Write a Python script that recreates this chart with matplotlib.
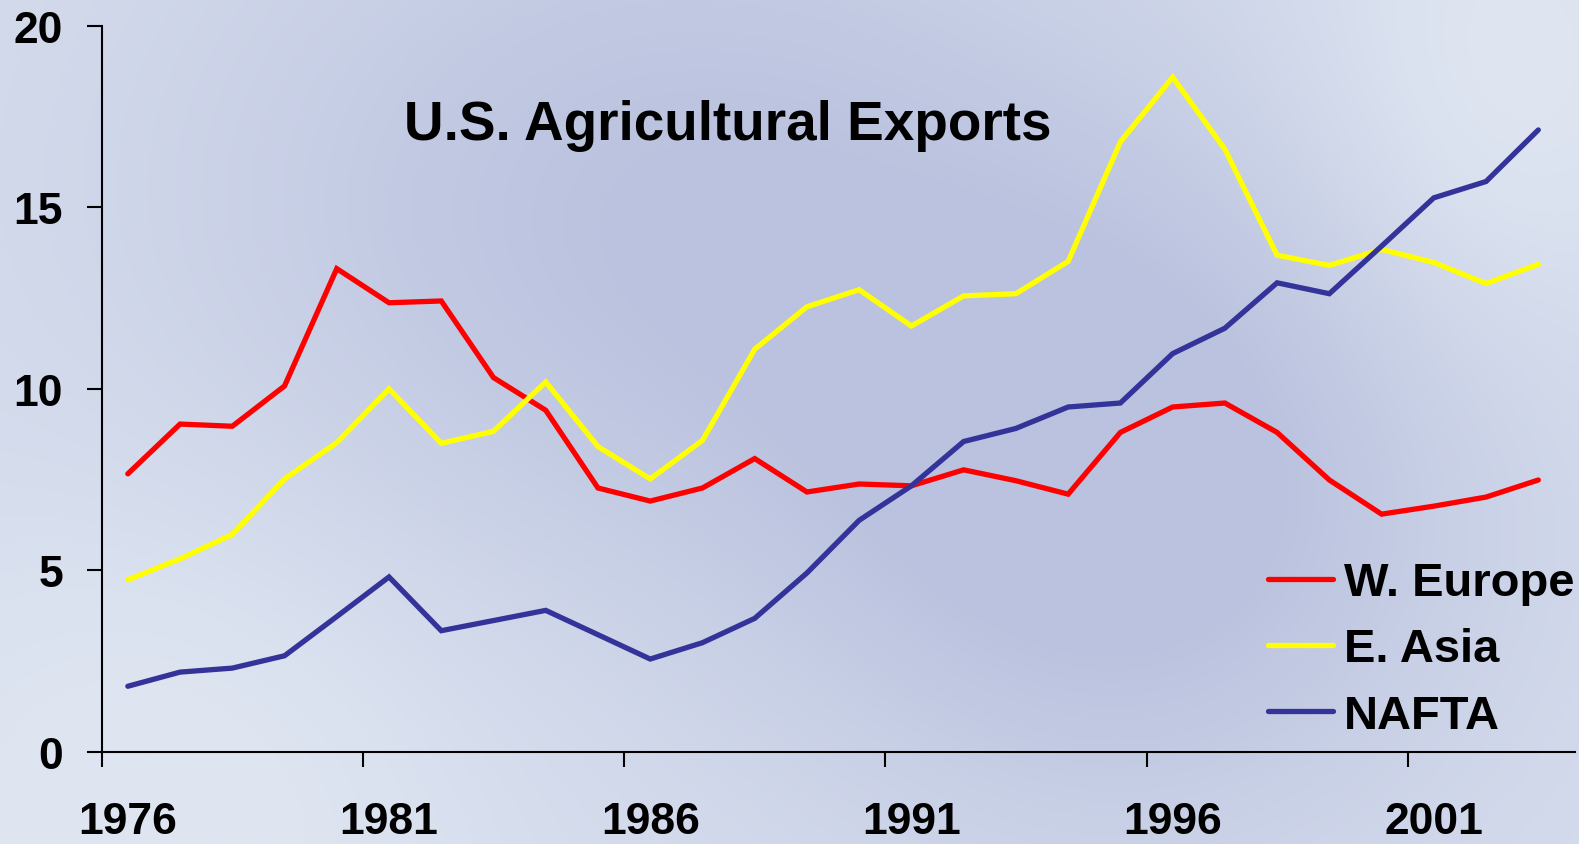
import numpy as np
import matplotlib
matplotlib.use("Agg")
import matplotlib.pyplot as plt
from matplotlib.ticker import FixedLocator, NullFormatter

years = list(range(1976, 2004))
w_europe = [7.66, 9.03, 8.97, 10.08, 13.31, 12.37, 12.42, 10.31, 9.41, 7.27,
            6.91, 7.27, 8.08, 7.16, 7.38, 7.33, 7.77, 7.47, 7.10, 8.80,
            9.50, 9.61, 8.80, 7.49, 6.55, 6.77, 7.02, 7.49]
e_asia = [4.74, 5.32, 5.99, 7.52, 8.52, 10.00, 8.50, 8.83, 10.19, 8.41,
          7.52, 8.58, 11.09, 12.26, 12.73, 11.73, 12.56, 12.62, 13.51, 16.80,
          18.58, 16.60, 13.68, 13.40, 13.84, 13.48, 12.90, 13.43]
nafta = [1.81, 2.20, 2.31, 2.65, 3.73, 4.82, 3.34, 3.62, 3.90, 3.23,
         2.56, 3.01, 3.68, 4.93, 6.38, 7.33, 8.55, 8.91, 9.50, 9.61,
         10.97, 11.67, 12.92, 12.62, 13.93, 15.26, 15.71, 17.13]
tick_years = ["1976", "1981", "1986", "1991", "1996", "2001"]
y_ticks = [0, 5, 10, 15, 20]
series_names = ["W. Europe", "E. Asia", "NAFTA"]
series_colors = ["#ff0000", "#ffff00", "#333399"]

plt.rcParams['font.family'] = ['Liberation Sans', 'DejaVu Sans']
plt.rcParams['font.weight'] = 'bold'

W, H = 1579, 845
fig = plt.figure(figsize=(W / 100, H / 100), dpi=100)

# background gradient
bg = fig.add_axes([0, 0, 1, 1], zorder=-10)
yy, xx = np.mgrid[0:1:300j, 0:1:560j]
light = np.array([222, 229, 241]) / 255.0
dark = np.array([186, 194, 223]) / 255.0
d = (0.7 * np.exp(-(((xx - 0.42) / 0.30) ** 2 + ((yy - 0.25) / 0.45) ** 2))
     + 0.8 * np.exp(-(((xx - 0.72) / 0.22) ** 2 + ((yy - 0.60) / 0.40) ** 2)))
d = d + 0.25
d = d - 0.35 * np.exp(-(((xx - 0.1) / 0.2) ** 2 + ((yy - 0.95) / 0.35) ** 2))
d = d - 0.35 * np.exp(-(((xx - 0.95) / 0.12) ** 2 + ((yy - 0.1) / 0.3) ** 2))
d = np.clip(d, 0, 1)
img = light[None, None, :] * (1 - d[..., None]) + dark[None, None, :] * d[..., None]
bg.imshow(img, extent=[0, 1, 0, 1], aspect='auto', interpolation='bilinear')
bg.axis('off')

cat_px = 52.24
x_max = 28.2
left_px = 101.7
ax = fig.add_axes([left_px / W, 1 - 753 / H, x_max * cat_px / W, (753 - 26.7) / H])
ax.patch.set_alpha(0)

x = np.arange(len(years)) + 0.5
for vals, name, col in zip([w_europe, e_asia, nafta], series_names, series_colors):
    ax.plot(x, vals, color=col, lw=3.8, label=name, solid_joinstyle='miter',
            solid_capstyle='round')

ax.set_xlim(0, x_max)
ax.set_ylim(0, 20)
ax.set_yticks(y_ticks)
ax.set_yticklabels([str(v) for v in y_ticks])
ax.xaxis.set_major_locator(FixedLocator([0, 5, 10, 15, 20, 25]))
ax.xaxis.set_major_formatter(NullFormatter())
ax.xaxis.set_minor_locator(FixedLocator([0.5, 5.5, 10.5, 15.5, 20.5, 25.5]))
ax.set_xticklabels(tick_years, minor=True)

for s in ['top', 'right']:
    ax.spines[s].set_visible(False)
for s in ['left', 'bottom']:
    ax.spines[s].set_linewidth(1.5)
    ax.spines[s].set_color('black')

ax.tick_params(axis='y', which='major', direction='out', length=10.8, width=1.5,
               labelsize=32, pad=17)
ax.tick_params(axis='x', which='major', direction='out', length=10.8, width=1.5)
ax.tick_params(axis='x', which='minor', length=0, labelsize=32, pad=35)
for lab in ax.get_xticklabels(minor=True) + ax.get_yticklabels():
    lab.set_fontweight('bold')

fig.text(728 / W, 1 - 126 / H, "U.S. Agricultural Exports", ha='center', va='center',
         fontsize=39.5, fontweight='bold')

leg = ax.legend(loc='upper left', bbox_to_anchor=(1268 / W, 1 - 562 / H),
                bbox_transform=fig.transFigure, frameon=False, fontsize=33.9,
                handlelength=1.38, handletextpad=0.23, labelspacing=0.475,
                borderpad=0, borderaxespad=0)
for t in leg.get_texts():
    t.set_fontweight('bold')

fig.savefig("out.png", dpi=100)
